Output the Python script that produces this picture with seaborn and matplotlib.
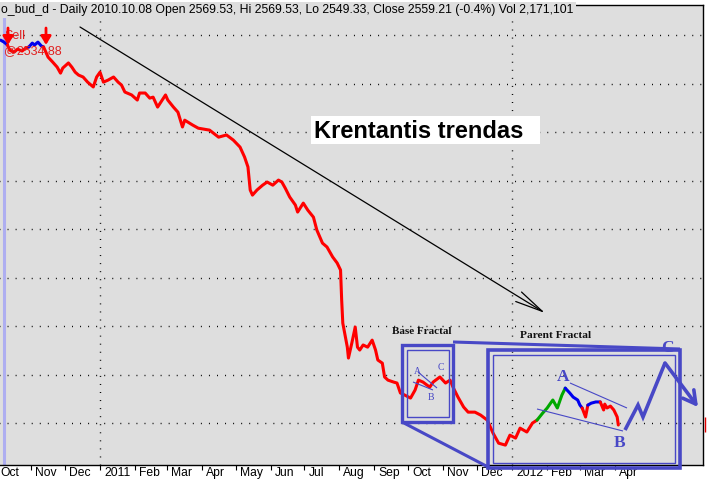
import matplotlib
matplotlib.use("Agg")
import matplotlib.pyplot as plt
import matplotlib.transforms as mtransforms
from matplotlib.patches import Rectangle, FancyArrowPatch
from matplotlib.lines import Line2D
import seaborn as sns
import pandas as pd

# ---------------- data ----------------
dates = [
    "2010-10-05", "2010-10-08", "2010-10-11", "2010-10-13", "2010-10-17", "2010-10-20",
    "2010-10-24", "2010-10-27", "2010-10-30", "2010-11-02", "2010-11-04", "2010-11-07",
    "2010-11-10", "2010-11-12", "2010-11-16", "2010-11-20", "2010-11-24", "2010-11-27",
    "2010-11-29", "2010-12-04", "2010-12-07", "2010-12-10", "2010-12-13", "2010-12-17",
    "2010-12-21", "2010-12-26", "2010-12-29", "2011-01-01", "2011-01-04", "2011-01-08",
    "2011-01-13", "2011-01-17", "2011-01-20", "2011-01-23", "2011-01-29", "2011-02-03",
    "2011-02-05", "2011-02-10", "2011-02-14", "2011-02-17", "2011-02-21", "2011-02-28",
    "2011-03-02", "2011-03-07", "2011-03-11", "2011-03-15", "2011-03-17", "2011-03-24",
    "2011-03-29", "2011-04-08", "2011-04-16", "2011-04-23", "2011-04-29", "2011-05-05",
    "2011-05-09", "2011-05-12", "2011-05-14", "2011-05-16", "2011-05-20", "2011-05-25",
    "2011-05-29", "2011-06-03", "2011-06-08", "2011-06-11", "2011-06-14", "2011-06-18",
    "2011-06-23", "2011-06-25", "2011-06-30", "2011-07-04", "2011-07-09", "2011-07-12",
    "2011-07-17", "2011-07-21", "2011-07-26", "2011-07-30", "2011-08-02", "2011-08-03",
    "2011-08-04", "2011-08-08", "2011-08-09", "2011-08-12", "2011-08-15", "2011-08-17",
    "2011-08-19", "2011-08-22", "2011-08-26", "2011-08-30", "2011-09-02", "2011-09-04",
    "2011-09-08", "2011-09-10", "2011-09-13", "2011-09-18", "2011-09-21", "2011-09-24",
    "2011-09-28", "2011-10-03", "2011-10-07", "2011-10-10", "2011-10-14", "2011-10-20",
    "2011-10-23", "2011-10-29", "2011-11-03", "2011-11-07", "2011-11-10", "2011-11-14",
    "2011-11-19", "2011-11-23", "2011-11-29", "2011-12-04", "2011-12-10", "2011-12-15",
    "2011-12-20", "2011-12-26", "2011-12-30", "2012-01-04", "2012-01-08", "2012-01-14",
    "2012-01-19", "2012-01-23", "2012-01-28", "2012-02-01", "2012-02-04", "2012-02-06",
    "2012-02-10", "2012-02-14", "2012-02-17", "2012-02-21", "2012-02-24", "2012-02-28",
    "2012-03-01", "2012-03-03", "2012-03-06", "2012-03-08", "2012-03-11", "2012-03-15",
    "2012-03-19", "2012-03-22", "2012-03-23", "2012-03-25", "2012-03-28", "2012-03-31",
    "2012-04-03", "2012-04-04",
]
close = [
    2579, 2571, 2559, 2538, 2530, 2542,
    2534, 2546, 2551, 2567, 2559, 2571,
    2555, 2551, 2509, 2489, 2468, 2443,
    2464, 2485, 2468, 2447, 2435, 2427,
    2406, 2386, 2427, 2447, 2406, 2414,
    2427, 2406, 2394, 2365, 2353, 2332,
    2361, 2361, 2340, 2344, 2303, 2353,
    2332, 2303, 2282, 2221, 2249, 2229,
    2216, 2208, 2179, 2188, 2167, 2138,
    2097, 2056, 1961, 1940, 1961, 1981,
    1994, 1981, 2002, 1994, 1969, 1932,
    1899, 1870, 1907, 1878, 1849, 1796,
    1742, 1726, 1685, 1660, 1631, 1507,
    1412, 1313, 1268, 1330, 1396, 1313,
    1301, 1322, 1313, 1342, 1301, 1260,
    1247, 1190, 1177, 1169, 1165, 1124,
    1115, 1103, 1136, 1177, 1169, 1148,
    1169, 1190, 1165, 1177, 1144, 1107,
    1066, 1045, 1045, 1033, 1012, 959,
    917, 909, 950, 938, 979, 963,
    1000, 1012, 1041, 1062, 1082, 1095,
    1062, 1115, 1144, 1124, 1107, 1095,
    1074, 1062, 1025, 1074, 1082, 1087,
    1087, 1054, 1078, 1062, 1070, 1054,
    1025, 992,
]
trend = list(
    "bbrrrrrrbbbbbr"
    + "r" * 107
    + "ggggggg"
    + "bbbbb"
    + "rr"
    + "bbb"
    + "rrrrrrrr"
)

tick_dates = ["2010-10-01", "2010-11-01", "2010-12-01", "2011-01-01", "2011-02-01",
              "2011-03-01", "2011-04-01", "2011-05-01", "2011-06-01", "2011-07-01",
              "2011-08-01", "2011-09-01", "2011-10-01", "2011-11-01", "2011-12-01",
              "2012-01-01", "2012-02-01", "2012-03-01", "2012-04-01"]
tick_labels = ["Oct", "Nov", "Dec", "2011", "Feb", "Mar", "Apr", "May", "Jun", "Jul",
               "Aug", "Sep", "Oct", "Nov", "Dec", "2012", "Feb", "Mar", "Apr"]
grid_levels = [1000, 1200, 1400, 1600, 1800, 2000, 2200, 2400, 2600]
year_lines = ["2011-01-01", "2012-01-01"]
cursor_date = "2010-10-08"

title_text = ("o_bud_d - Daily 2010.10.08 Open 2569.53, Hi 2569.53, Lo 2549.33, "
              "Close 2559.21 (-0.4%) Vol 2,171,101")

# ---------------- figure ----------------
sns.set_style("white")
plt.rcParams["font.family"] = ["Liberation Sans", "DejaVu Sans"]

W, H = 707, 480
fig = plt.figure(figsize=(W / 100, H / 100), dpi=100)
fig.patch.set_facecolor("white")
left_px = -3.85
ax = fig.add_axes([left_px / W, 15 / H, (703 - left_px) / W, 460 / H])
ax.set_facecolor("#dedede")

color_map = {"r": "#ff0000", "b": "#0000ee", "g": "#00a800"}

df = pd.DataFrame({"date": pd.to_datetime(dates), "close": close, "trend": trend})
# split into consecutive colour runs, each run joined to the next point
runs = []
start = 0
for i in range(1, len(df) + 1):
    if i == len(df) or df.trend.iloc[i] != df.trend.iloc[start]:
        end = min(i + 1, len(df))
        runs.append((df.trend.iloc[start], df.iloc[start:end]))
        start = i

# grid
for lv in grid_levels:
    ax.axhline(lv, color="black", lw=1, ls=(0, (0.7, 5.1)), zorder=1)
for yl in year_lines:
    ax.axvline(pd.Timestamp(yl), color="black", lw=1, ls=(0, (0.7, 5.1)), zorder=1)
ax.axvline(pd.Timestamp(cursor_date), color="#aeaef0", lw=2.2, zorder=1.5)

for c, seg in runs:
    sns.lineplot(data=seg, x="date", y="close", color=color_map[c], lw=2.2,
                 sort=False, estimator=None, ax=ax, zorder=3)

ax.set_xlim(pd.Timestamp("2010-10-01"), pd.Timestamp("2012-06-18"))
ax.set_ylim(827, 2724)
ax.set_xlabel("")
ax.set_ylabel("")
ax.set_yticks([])
ax.set_xticks(pd.to_datetime(tick_dates))
ax.set_xticklabels(tick_labels)
ax.tick_params(axis="x", direction="out", length=3.6, width=0.8, pad=-2,
               labelsize=8.7, colors="black", bottom=True)
offset = mtransforms.ScaledTranslation(4 / 100, 0, fig.dpi_scale_trans)
for lab in ax.get_xticklabels():
    lab.set_horizontalalignment("left")
    lab.set_transform(lab.get_transform() + offset)
for s in ["top", "right", "bottom"]:
    ax.spines[s].set_color("black")
    ax.spines[s].set_linewidth(1)
ax.spines["left"].set_visible(False)

# ---------------- annotations (figure pixel positions) ----------------
def P(x, y):
    return (x / W, 1 - y / H)

BLUE = "#4848c6"
tf = fig.transFigure

def line(pts, color=BLUE, lw=2.0, z=10):
    xs = [P(*p)[0] for p in pts]
    ys = [P(*p)[1] for p in pts]
    fig.add_artist(Line2D(xs, ys, transform=tf, color=color, lw=lw, zorder=z,
                          solid_joinstyle="miter", solid_capstyle="butt"))

def rect(x0, y0, x1, y1, lw, color=BLUE, fc="none", z=10):
    fig.add_artist(Rectangle(P(x0, y1), (x1 - x0) / W, (y1 - y0) / H, transform=tf,
                             fill=(fc != "none"), facecolor=fc, edgecolor=color,
                             lw=lw, zorder=z, joinstyle="miter"))

# title
fig.text(1 / W, 1 - 10 / H, title_text, fontsize=8.8, ha="left", va="center",
         color="black", bbox=dict(facecolor="#dedede", edgecolor="none", pad=1.6),
         zorder=20)

# sell label and arrows
fig.text(4 / W, 1 - 36 / H, "Sell", fontsize=9, color="#e02020", ha="left",
         va="center", zorder=11)
fig.text(4 / W, 1 - 51 / H, "@2534.88", fontsize=9, color="#e02020", ha="left",
         va="center", zorder=11)
for xa in (8, 46):
    fig.add_artist(FancyArrowPatch(P(xa, 28), P(xa, 45), transform=tf,
                                   arrowstyle="-|>,head_length=5,head_width=3",
                                   color="#ff0000", lw=2.0, zorder=12,
                                   shrinkA=0, shrinkB=0))

# big trend arrow
fig.add_artist(FancyArrowPatch(P(80, 27), P(545, 313), transform=tf,
                               arrowstyle="->,head_length=20,head_width=4",
                               color="black", lw=0.9, zorder=9,
                               shrinkA=0, shrinkB=0))

# Krentantis trendas
rect(311, 116, 540, 144, lw=0, color="white", fc="white", z=9)
fig.text(314 / W, 1 - 131 / H, "Krentantis trendas", fontsize=17, fontweight="bold",
         ha="left", va="center", color="black", zorder=10)

# fractal labels
fig.text(392 / W, 1 - 331 / H, "Base Fractal", fontsize=8, fontweight="bold",
         family="Liberation Serif", ha="left", va="center", color="#101010", zorder=10)
fig.text(520 / W, 1 - 336 / H, "Parent Fractal", fontsize=8.2, fontweight="bold",
         family="Liberation Serif", ha="left", va="center", color="#101010", zorder=10)

# base fractal box
rect(402, 345, 453, 422, lw=2.4)
rect(407, 350, 449, 417, lw=1.0)
line([(413, 382), (433, 390)], lw=0.8)
line([(418, 372), (437, 388)], lw=0.8)
for t, (x, y) in {"A": (417, 372), "B": (431, 397), "C": (441, 368)}.items():
    fig.text(x / W, 1 - y / H, t, fontsize=7, family="Liberation Serif",
             ha="center", va="center", color=BLUE, zorder=11)

# connectors
line([(453, 342), (680, 349)], lw=2.2)
line([(402, 422), (490, 468)], lw=2.2)

# parent fractal box
rect(488, 350, 680, 468, lw=2.6)
rect(493, 355, 675, 463, lw=1.0)

# channel lines
line([(570, 383), (627, 408)], lw=0.8)
line([(537, 409), (623, 431)], lw=0.8)

# projected zigzag
line([(625, 430), (638, 405), (643, 417), (665, 363)], lw=2.6)
fig.add_artist(FancyArrowPatch(P(665, 363), P(698, 407), transform=tf,
                               arrowstyle="->,head_length=9,head_width=5",
                               color=BLUE, lw=2.6, zorder=10, shrinkA=0, shrinkB=0))
for t, (x, y) in {"A": (563, 377), "B": (620, 443), "C": (667, 348)}.items():
    fig.text(x / W, 1 - y / H, t, fontsize=12.5, fontweight="bold",
             family="Liberation Serif", ha="center", va="center", color=BLUE, zorder=11)

# last value marker at the right edge
line([(705, 417), (705, 432)], color="#e00000", lw=1.0)

fig.savefig("out.png", dpi=100, facecolor="white")
